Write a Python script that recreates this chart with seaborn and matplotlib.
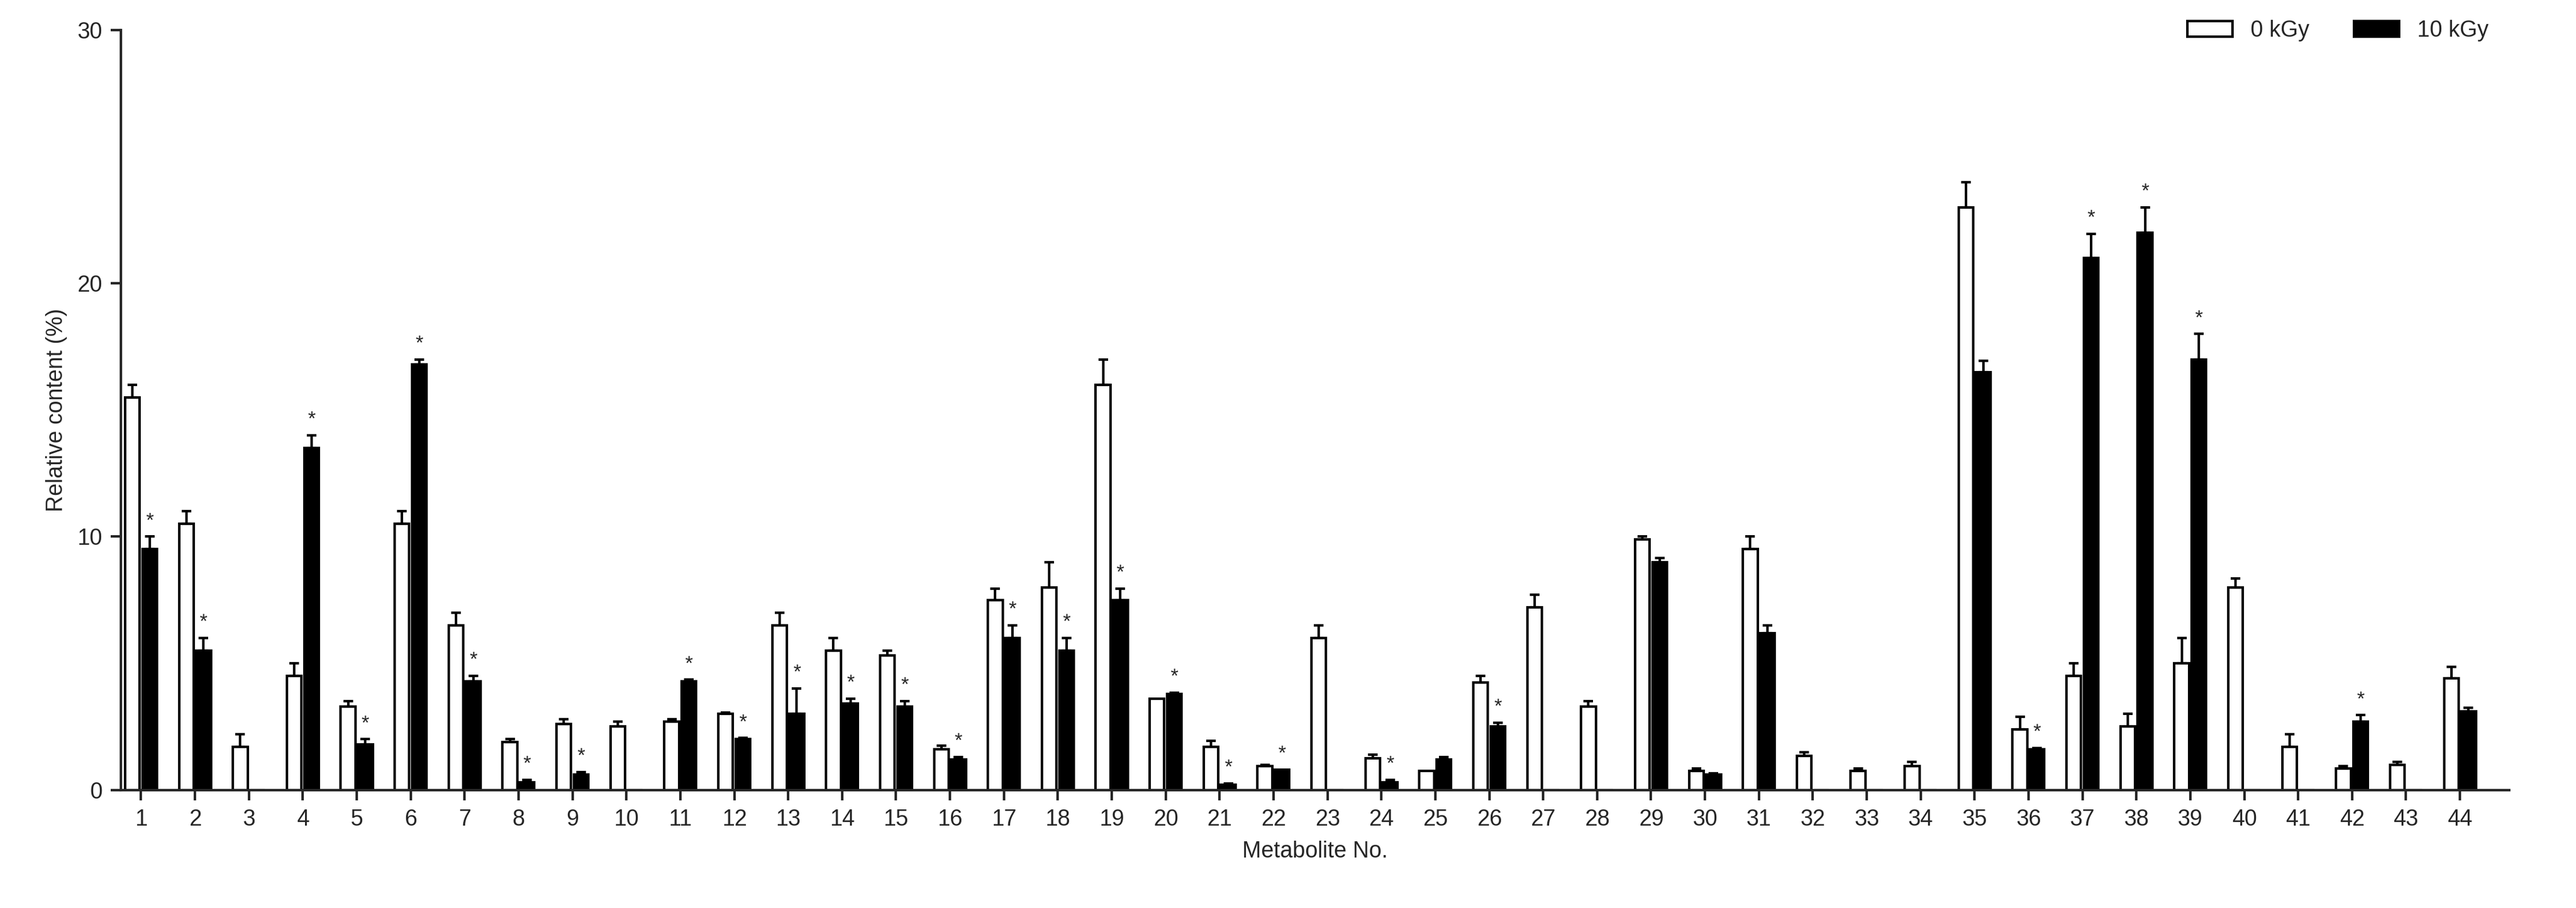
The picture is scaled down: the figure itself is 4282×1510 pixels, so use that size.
import numpy as np
import pandas as pd
import matplotlib
matplotlib.use("Agg")
import matplotlib.pyplot as plt
import seaborn as sns

metabolites = [str(i) for i in range(1, 45)]
ctrl = [15.5, 10.5, 1.7, 4.5, 3.3, 10.5, 6.5, 1.9, 2.6, 2.5, 2.7, 3.0, 6.5, 5.5, 5.3, 1.6, 7.5, 8.0, 16.0, 3.6,
        1.7, 0.95, 6.0, 1.25, 0.75, 4.25, 7.2, 3.3, 9.9, 0.75, 9.5, 1.35, 0.75, 0.95, 23.0, 2.4, 4.5, 2.5, 5.0, 8.0,
        1.7, 0.85, 1.0, 4.4]
irr = [9.5, 5.5, 0, 13.5, 1.8, 16.8, 4.3, 0.3, 0.6, 0, 4.3, 2.0, 3.0, 3.4, 3.3, 1.2, 6.0, 5.5, 7.5, 3.8,
       0.2, 0.8, 0, 0.3, 1.2, 2.5, 0, 0, 9.0, 0.6, 6.2, 0, 0, 0, 16.5, 1.6, 21.0, 22.0, 17.0, 0,
       0, 2.7, 0, 3.1]
ctrl_err = [0.5, 0.5, 0.5, 0.5, 0.2, 0.5, 0.5, 0.1, 0.2, 0.2, 0.1, 0.05, 0.5, 0.5, 0.2, 0.15, 0.45, 1.0, 1.0, 0.0,
            0.25, 0.05, 0.5, 0.15, 0.0, 0.25, 0.5, 0.2, 0.1, 0.1, 0.5, 0.15, 0.1, 0.15, 1.0, 0.5, 0.5, 0.5, 1.0, 0.35,
            0.5, 0.1, 0.1, 0.45]
irr_err = [0.5, 0.5, 0, 0.5, 0.2, 0.2, 0.2, 0.1, 0.1, 0, 0.05, 0.05, 1.0, 0.2, 0.2, 0.1, 0.5, 0.5, 0.45, 0.05,
           0.05, 0.0, 0, 0.1, 0.1, 0.15, 0, 0, 0.15, 0.05, 0.3, 0, 0, 0, 0.45, 0.05, 0.95, 1.0, 1.0, 0,
           0, 0.25, 0, 0.15]
significant = [1, 2, 4, 5, 6, 7, 8, 9, 11, 12, 13, 14, 15, 16, 17, 18, 19, 20, 21, 22, 24, 26, 36, 37, 38, 39, 42]
groups = ["0 kGy", "10 kGy"]

sns.set_theme(style="ticks")
plt.rcParams['font.family'] = ['Liberation Sans', 'DejaVu Sans']

df = pd.DataFrame({
    "Metabolite": metabolites * 2,
    "Value": ctrl + irr,
    "Group": [groups[0]] * 44 + [groups[1]] * 44,
})

fig, ax = plt.subplots(figsize=(4282 / 300, 1510 / 300), dpi=300)
fig.subplots_adjust(left=0.047, right=0.974, top=0.967, bottom=0.13)

sns.barplot(data=df, x="Metabolite", y="Value", hue="Group", order=metabolites,
            hue_order=groups, palette={"0 kGy": "white", "10 kGy": "black"},
            width=0.64, gap=0.15, errorbar=None, edgecolor="black", linewidth=1.0, ax=ax)

patches = [p for p in ax.patches if p.get_width() > 0][:88]
errs = ctrl_err + irr_err
vals = ctrl + irr
for i, p in enumerate(patches):
    cx = p.get_x() + p.get_width() / 2
    v, e = vals[i], errs[i]
    if v > 0 and e > 0:
        ax.errorbar(cx, v, yerr=[[0], [e]], fmt="none", ecolor="black",
                    elinewidth=1.0, capsize=2.0, capthick=1.0)
    if i >= 44 and (i - 44 + 1) in significant:
        ax.text(cx, v + e + 0.25, "*", ha="center", va="bottom", fontsize=8)

ax.set_xlim(-0.37, 43.91)
ax.set_ylim(0, 30)
ax.set_yticks([0, 10, 20, 30])
ax.set_xlabel("Metabolite No.", fontsize=9)
ax.set_ylabel("Relative content (%)", fontsize=9)
ax.tick_params(axis="both", labelsize=9, width=1.0, length=4, direction="out")
sns.despine(ax=ax)
for s in ["left", "bottom"]:
    ax.spines[s].set_linewidth(1.0)
ax.legend(title=None, frameon=False, ncol=2, loc="upper right", fontsize=9,
          bbox_to_anchor=(1.0, 1.04), handlelength=2.0, columnspacing=2.0)

fig.savefig("out.png", dpi=300)
